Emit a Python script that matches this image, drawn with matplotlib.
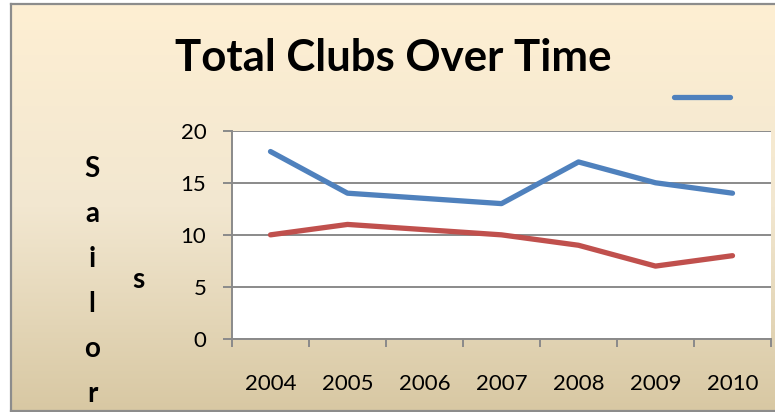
import numpy as np
import matplotlib
matplotlib.use('Agg')
import matplotlib.pyplot as plt
from matplotlib.lines import Line2D
from matplotlib.colors import LinearSegmentedColormap

plt.rcParams['font.family'] = ['Lato', 'DejaVu Sans']

# datos
years = ['2004', '2005', '2006', '2007', '2008', '2009', '2010']
blue_values = [18, 14, 13.5, 13, 17, 15, 14]
red_values = [10, 11, 10.5, 10, 9, 7, 8]
y_ticks = [0, 5, 10, 15, 20]
title = 'Total Clubs Over Time'
ylabel_main = 'Sailor'
ylabel_tail = 's'

W, H = 775, 412
fig = plt.figure(figsize=(W / 100, H / 100), dpi=100)
fig.patch.set_facecolor('white')

# fondo degradado con marco
bg = fig.add_axes([11 / W, 1 - 410.7 / H, 1 - 11 / W, (410.7 - 4) / H], zorder=0)
grad_cmap = LinearSegmentedColormap.from_list('bg', ['#FEEFD3', '#F2E7D0', '#D8C8A3'])
bg.imshow(np.linspace(0, 1, 256).reshape(-1, 1), cmap=grad_cmap, aspect='auto',
          extent=[0, 1, 0, 1], origin='upper')
bg.set_xticks([])
bg.set_yticks([])
for side in ['left', 'top', 'bottom']:
    bg.spines[side].set_color('#8c8c8c')
    bg.spines[side].set_linewidth(1.6)
bg.spines['right'].set_visible(False)

# area del grafico
ax = fig.add_axes([232 / W, 1 - 339 / H, (771 - 232) / W, (339 - 130.7) / H], zorder=1)
ax.set_facecolor('white')
x = np.arange(len(years))
ax.plot(x, blue_values, color='#4F81BD', lw=3.8, solid_capstyle='round',
        solid_joinstyle='round', zorder=3)
ax.plot(x, red_values, color='#C0504D', lw=3.8, solid_capstyle='round',
        solid_joinstyle='round', zorder=3)

ax.set_xlim(-0.5, len(years) - 0.5)
ax.set_ylim(0, 20)
ax.set_yticks(y_ticks)
ax.set_yticklabels([str(v) for v in y_ticks], fontsize=16)
ax.yaxis.grid(True, color='#8a8a8a', lw=1.4)
ax.set_axisbelow(True)

ax.set_xticks(np.arange(len(years) + 1) - 0.5)
ax.set_xticklabels([])
ax.set_xticks(x, minor=True)
ax.set_xticklabels(years, minor=True, fontsize=16)
ax.tick_params(axis='x', which='minor', length=0, pad=25)
ax.tick_params(axis='x', which='major', length=6, width=1.4, color='#8a8a8a')
ax.tick_params(axis='y', length=6.5, width=1.4, color='#8a8a8a', pad=12)

for side in ['top', 'right']:
    ax.spines[side].set_visible(False)
for side in ['left', 'bottom']:
    ax.spines[side].set_color('#8a8a8a')
    ax.spines[side].set_linewidth(1.4)

# titulo
fig.text(393 / W, 1 - 71 / H, title, ha='center', va='baseline',
         fontsize=31.5, fontweight='bold', zorder=5)

# etiqueta del eje y (letras apiladas)
for i, ch in enumerate(ylabel_main):
    fig.text(92 / W, 1 - (177 + 45 * i) / H, ch, ha='center', va='baseline',
             fontsize=20, fontweight='bold', zorder=5)
fig.text(138 / W, 1 - 288 / H, ylabel_tail, ha='center', va='baseline',
         fontsize=20, fontweight='bold', zorder=5)

# leyenda (solo la linea azul, sin texto)
handle = Line2D([], [], color='#4F81BD', lw=3.8, solid_capstyle='round')
fig.legend(handles=[handle], labels=[''], loc='center',
           bbox_to_anchor=(702 / W, 1 - 98 / H), frameon=False,
           handlelength=4.0, handletextpad=0, borderpad=0, fontsize=10)

plt.savefig('out.png', dpi=100)
